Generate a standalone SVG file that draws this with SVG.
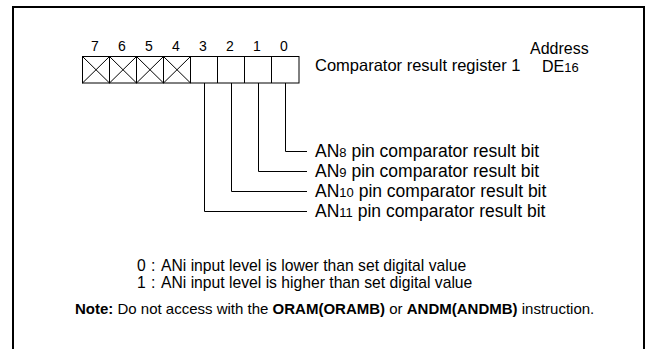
<svg xmlns="http://www.w3.org/2000/svg" width="648" height="349" viewBox="0 0 648 349">
<style>
text{font-family:"Liberation Sans",Arial,sans-serif;fill:#000}
.d{font-size:14px;text-anchor:middle}
.t{font-size:16.5px}
.a{font-size:16px}
.l{font-size:17.5px}
.s{font-size:13px}
.b{font-size:15.7px}
.n{font-size:15px}
.w{font-weight:bold}
.ln{stroke:#000;stroke-width:1;fill:none}
</style>
<rect width="648" height="349" fill="#fff"/>
<path d="M13,349V7H644V349" fill="none" stroke="#000" stroke-width="2"/>
<g id="register">
<text class="d" x="95" y="51">7</text>
<text class="d" x="122" y="51">6</text>
<text class="d" x="149" y="51">5</text>
<text class="d" x="176" y="51">4</text>
<text class="d" x="203" y="51">3</text>
<text class="d" x="230" y="51">2</text>
<text class="d" x="257" y="51">1</text>
<text class="d" x="284" y="51">0</text>
<rect class="ln" x="82.5" y="56.5" width="216.5" height="26.5"/>
<path class="ln" d="M109.5,56.5V83M136.5,56.5V83M163.5,56.5V83M190.5,56.5V83M217.5,56.5V83M244.5,56.5V83M271.5,56.5V83"/>
<path class="ln" d="M82.5,56.5L109.5,83M109.5,56.5L82.5,83M109.5,56.5L136.5,83M136.5,56.5L109.5,83M136.5,56.5L163.5,83M163.5,56.5L136.5,83M163.5,56.5L190.5,83M190.5,56.5L163.5,83"/>
</g>
<g id="title">
<text class="a" x="530" y="53.5">Address</text>
<text class="t" x="315" y="71">Comparator result register 1</text>
<text class="a" x="542" y="71.5">DE<tspan class="s">16</tspan></text>
</g>
<g id="connectors">
<path class="ln" d="M285.5,83V151.5H307M258.5,83V171.5H307M231.5,83V191.5H307M204.5,83V211.5H307"/>
</g>
<g id="bit0"><text class="l" x="315" y="157">AN<tspan class="s">8</tspan> pin comparator result bit</text></g>
<g id="bit1"><text class="l" x="315" y="177">AN<tspan class="s">9</tspan> pin comparator result bit</text></g>
<g id="bit2"><text class="l" x="315" y="197">AN<tspan class="s">10</tspan> pin comparator result bit</text></g>
<g id="bit3"><text class="l" x="315" y="217">AN<tspan class="s">11</tspan> pin comparator result bit</text></g>
<g id="legend">
<text class="b" x="137" y="271">0<tspan x="151">:</tspan><tspan x="161">ANi input level is lower than set digital value</tspan></text>
<text class="b" x="137" y="288">1<tspan x="151">:</tspan><tspan x="161">ANi input level is higher than set digital value</tspan></text>
<text class="n" x="75" y="314"><tspan class="w">Note:</tspan> Do not access with the <tspan class="w">ORAM(ORAMB)</tspan> or <tspan class="w">ANDM(ANDMB)</tspan> instruction.</text>
</g>
</svg>
